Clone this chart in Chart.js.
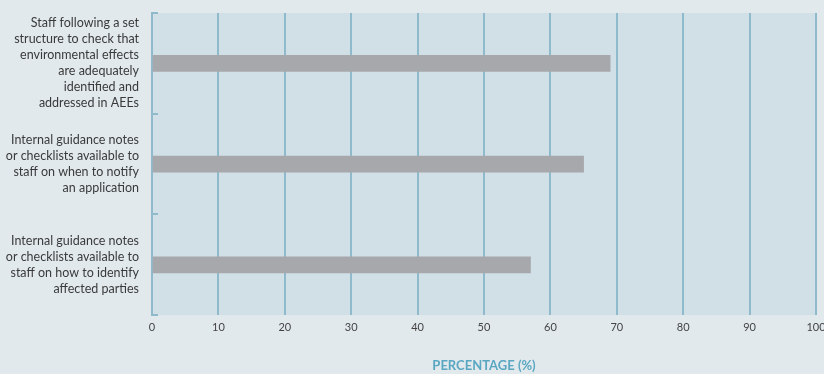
<!DOCTYPE html>
<html>
<head>
<meta charset="utf-8">
<script src="https://cdn.jsdelivr.net/npm/chart.js@4"></script>
<style>
  html, body { margin: 0; padding: 0; background: #e1e9ed; }
  #wrap { width: 824px; height: 374px; }
</style>
</head>
<body>
<div id="wrap"><canvas id="myChart"></canvas></div>
<script>
// DATA

var categories = [
    ['Staff following a set', 'structure to check that', 'environmental effects', 'are adequately', 'identified and', 'addressed in AEEs'],
    ['Internal guidance notes', 'or checklists available to', 'staff on when to notify', 'an application'],
    ['Internal guidance notes', 'or checklists available to', 'staff on how to identify', 'affected parties']
];
var percentages = [69, 65, 57];
var xTicks = [0, 10, 20, 30, 40, 50, 60, 70, 80, 90, 100];

var teal = '#8fbacb';

// plot area fill behind the bars
var plotBg = {
    id: 'plotBg',
    beforeDraw: function(chart) {
        var a = chart.chartArea;
        var c = chart.ctx;
        c.save();
        c.fillStyle = '#d1e0e6';
        c.fillRect(a.left, a.top, a.right - a.left, a.bottom - a.top);
        c.restore();
    }
};

document.addEventListener('DOMContentLoaded', function(){

var ctx = document.getElementById('myChart').getContext('2d');

var chart = new Chart(ctx, {
    type: 'bar',
    data: {
        labels: categories,
        datasets: [{
            label: 'Percentage',
            data: percentages,
            backgroundColor: '#a7a8ab',
            barThickness: 16
        }]
    },
    options: {
        indexAxis: 'y',
        responsive: true,
        maintainAspectRatio: false,
        animation: false,
        layout: { padding: { top: 13, right: 0, left: 0, bottom: 0 } },
        plugins: {
            legend: { display: false },
            tooltip: { enabled: false }
        },
        scales: {
            x: {
                min: 0,
                max: 100,
                afterBuildTicks: function(scale) {
                    scale.ticks = xTicks.map(function(v){ return { value: v }; });
                },
                // let the "100" label run off the right edge
                afterFit: function(scale) {
                    scale.paddingRight = 8;
                },
                grid: { color: teal, lineWidth: 2, drawTicks: false },
                border: { display: false },
                ticks: {
                    padding: 6,
                    color: '#444444',
                    font: { family: 'Lato', size: 11 }
                },
                title: {
                    display: true,
                    text: 'PERCENTAGE (%)',
                    color: '#5aa7c2',
                    font: { family: 'Lato', size: 13, weight: 'bold' },
                    padding: { top: 18, bottom: 0 }
                }
            },
            y: {
                // fixed axis width, and no extra room for the tall first/last labels
                afterFit: function(scale) {
                    scale.width = 152;
                    scale.paddingTop = 0;
                    scale.paddingBottom = 0;
                },
                grid: {
                    offset: true,
                    drawOnChartArea: false,
                    drawTicks: true,
                    tickLength: -6,
                    color: teal,
                    lineWidth: 2
                },
                border: { display: true, color: teal, width: 2 },
                ticks: {
                    autoSkip: false,
                    padding: 19,
                    color: '#3a3a3a',
                    font: { family: 'Lato', size: 12.5, lineHeight: 1.28 }
                }
            }
        }
    },
    plugins: [plotBg]
});

});
</script>
</body>
</html>
